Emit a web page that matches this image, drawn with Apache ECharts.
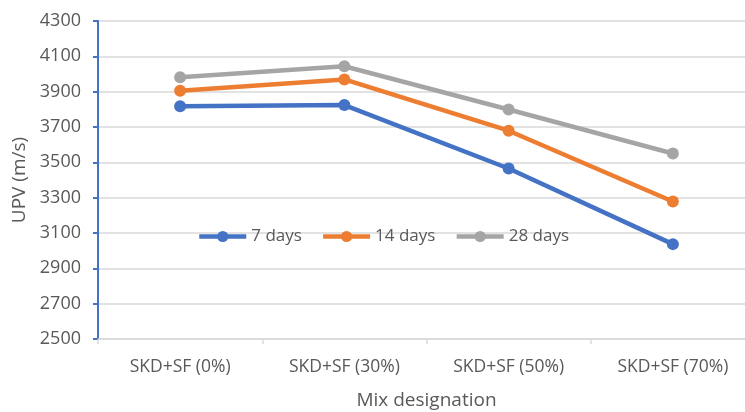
<!DOCTYPE html>
<html>
<head>
<meta charset="utf-8">
<script src="https://cdn.jsdelivr.net/npm/echarts@6/dist/echarts.min.js"></script>
<style>
html,body{margin:0;padding:0;background:#fff;}
#chart{width:745px;height:412px;}
</style>
</head>
<body>
<div id="chart"></div>
<script>
const categories = ['SKD+SF (0%)', 'SKD+SF (30%)', 'SKD+SF (50%)', 'SKD+SF (70%)'];
const days7 = [3818, 3824, 3465, 3037];
const days14 = [3905, 3969, 3679, 3278];
const days28 = [3982, 4044, 3799, 3550];
const seriesNames = ['7 days', '14 days', '28 days'];
const colors = ['#4472C4', '#ED7D31', '#A5A5A5'];

const font = 'Open Sans';
const textColor = '#595959';

function mk(name, data, color) {
  return {
    name: name,
    type: 'line',
    data: data,
    symbol: 'circle',
    symbolSize: 12,
    itemStyle: {color: color},
    lineStyle: {color: color, width: 4.5},
    emphasis: {disabled: true},
    animation: false
  };
}

const chart = echarts.init(document.getElementById('chart'));
chart.setOption({
  animation: false,
  color: colors,
  grid: {left: 98, top: 21, width: 657, height: 318, containLabel: false, outerBoundsMode: 'none'},
  legend: {
    left: 192,
    top: 223,
    itemWidth: 47,
    itemHeight: 14,
    itemGap: 19,
    data: seriesNames,
    lineStyle: {width: 4.5},
    textStyle: {fontFamily: font, fontSize: 17, color: textColor}
  },
  xAxis: {
    type: 'category',
    data: categories,
    boundaryGap: true,
    name: 'Mix designation',
    nameLocation: 'middle',
    nameGap: 52,
    nameTextStyle: {fontFamily: font, fontSize: 19, color: textColor},
    axisLine: {lineStyle: {color: '#D9D9D9', width: 1.5}},
    axisTick: {show: true, length: 5, lineStyle: {color: '#D9D9D9', width: 1.5}},
    axisLabel: {fontFamily: font, fontSize: 17.5, color: textColor, margin: 19}
  },
  yAxis: {
    type: 'value',
    min: 2500,
    max: 4300,
    interval: 200,
    name: 'UPV (m/s)',
    nameLocation: 'middle',
    nameGap: 68,
    nameTextStyle: {fontFamily: font, fontSize: 19, color: textColor},
    axisLine: {show: true, lineStyle: {color: '#4472C4', width: 2}},
    axisTick: {show: true, length: 5, lineStyle: {color: '#4472C4', width: 2}},
    axisLabel: {fontFamily: font, fontSize: 18, color: textColor, margin: 17, formatter: function (v) { return String(v); }},
    splitLine: {lineStyle: {color: '#D9D9D9', width: 1.5}}
  },
  series: [
    mk(seriesNames[0], days7, colors[0]),
    mk(seriesNames[1], days14, colors[1]),
    mk(seriesNames[2], days28, colors[2])
  ]
});
</script>
</body>
</html>
